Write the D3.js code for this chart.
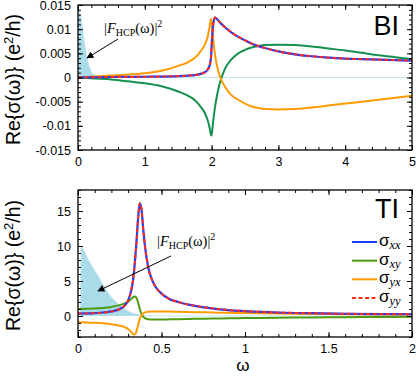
<!DOCTYPE html>
<html lang="en">
<head>
<meta charset="utf-8">
<title>Re sigma BI / TI</title>
<script src="https://d3js.org/d3.v7.min.js"></script>
<style>
  body { margin: 0; background: #fff; }
  text { font-family: "Liberation Sans", Arial, sans-serif; }
  .serif { font-family: "Liberation Serif", "Times New Roman", serif; }
</style>
</head>
<body>
<svg id="chart" width="416" height="376"></svg>
<script>
// colours
var cBlue = "#1a3cff", cRed = "#ff2a1a", cOrange = "#ff9a00"
var cGreenBI = "#14904c", cGreenTI = "#4e9a10", cFill = "#a9dbe9"

// ---- BI panel data ----
var wBI = [0,0.25,0.5,0.75,1,1.25,1.5,1.65,1.75,1.85,1.9,1.94,1.97,1.99,2.0,2.02,2.05,2.08,2.12,2.16,2.2,2.3,2.4,2.5,2.6,2.7,2.8,3.0,3.25,3.5,3.75,4,4.25,4.5,4.75,5]
var sxxBI = [0,0.00005,0.0001,0.00012,0.00015,0.0002,0.0003,0.0004,0.0005,0.0008,0.0011,0.0016,0.0025,0.004,0.0065,0.0105,0.0124,0.0121,0.0115,0.0109,0.0104,0.0093,0.0084,0.0077,0.0070,0.0065,0.0061,0.0054,0.0048,0.0044,0.0041,0.0039,0.0038,0.0037,0.0036,0.0035]
var sxyBI = [0,-0.0002,-0.0004,-0.0008,-0.0012,-0.0018,-0.0029,-0.0038,-0.0047,-0.0063,-0.0074,-0.0088,-0.0104,-0.0118,-0.012,-0.0095,-0.0062,-0.0038,-0.0013,0.0004,0.0018,0.0038,0.005,0.0057,0.0062,0.0065,0.0067,0.0068,0.0067,0.0064,0.006,0.0056,0.0051,0.0046,0.0042,0.0038]
var syxBI = [0,0.0002,0.0004,0.0006,0.0009,0.0014,0.0024,0.0032,0.0041,0.0057,0.0068,0.0084,0.0105,0.0121,0.0118,0.0085,0.0048,0.0025,0.0004,-0.0009,-0.0019,-0.0037,-0.0046,-0.0054,-0.006,-0.0063,-0.0065,-0.0066,-0.0065,-0.0062,-0.0058,-0.0054,-0.005,-0.0046,-0.0042,-0.0038]
var wFBI = [0.005,0.03,0.05,0.075,0.1,0.125,0.15,0.175,0.2,0.25,0.3,0.4,1,5]
var fBI = [0.0142,0.0133,0.0118,0.0092,0.0068,0.0048,0.0032,0.0021,0.0012,0.0004,0.0001,0,0,0]

// ---- TI panel data ----
var wTI = [0,0.05,0.1,0.15,0.2,0.25,0.28,0.3,0.32,0.33,0.34,0.35,0.36,0.37,0.38,0.39,0.4,0.42,0.45,0.5,0.55,0.6,0.7,0.8,0.9,1.0,1.2,1.4,1.6,1.8,2.0]
var sxxTI = [0.35,0.37,0.42,0.5,0.65,1.0,1.5,2.2,3.8,5.2,7.5,10.5,14.0,16.1,15.3,12.6,10.2,7.0,4.8,3.2,2.4,2.0,1.45,1.1,0.85,0.7,0.5,0.4,0.32,0.28,0.25]
var sxyTI = [1.0,1.02,1.08,1.15,1.3,1.55,1.8,2.05,2.45,2.7,2.8,2.6,1.9,1.0,0.3,-0.1,-0.3,-0.45,-0.5,-0.5,-0.48,-0.45,-0.4,-0.36,-0.33,-0.3,-0.25,-0.2,-0.17,-0.14,-0.12]
var syxTI = [-0.9,-0.92,-0.97,-1.05,-1.18,-1.4,-1.6,-1.85,-2.3,-2.6,-2.65,-2.2,-1.3,-0.4,0.1,0.35,0.5,0.6,0.65,0.65,0.63,0.6,0.55,0.5,0.46,0.42,0.35,0.3,0.25,0.22,0.2]
var wFTI = [0.015,0.02,0.06,0.12,0.18,0.24,0.3,0.36,0.45,2.0]
var fTI = [0,9.8,8.1,5.7,3.3,1.7,0.7,0.2,0,0]

// axis ticks
var xTicksBI = [0,1,2,3,4,5]
var yTicksBI = [-0.015,-0.01,-0.005,0,0.005,0.01,0.015]
var yLabelsBI = ["-0.015","-0.01","-0.005","0","0.005","0.01","0.015"]
var xTicksTI = [0,0.5,1,1.5,2]
var xLabelsTI = ["0","0.5","1","1.5","2"]
var yTicksTI = [0,5,10,15]

var legendNames = ["xx","xy","yx","yy"]

var svg = d3.select("#chart")

function zip(xs, ys) { return xs.map((x, i) => [x, ys[i]]) }

function panel(opt) {
  var x = d3.scaleLinear().domain(opt.xDom).range([78, 412])
  var y = d3.scaleLinear().domain(opt.yDom).range([opt.bottom, opt.top])
  var g = svg.append("g")

  // clip
  var cid = "clip" + opt.name
  svg.append("clipPath").attr("id", cid).append("rect")
    .attr("x", 78).attr("y", opt.top).attr("width", 334).attr("height", opt.bottom - opt.top)
  var plot = g.append("g").attr("clip-path", "url(#" + cid + ")")

  var area = d3.area().x(d => x(d[0])).y0(y(0)).y1(d => y(d[1])).curve(d3.curveMonotoneX)
  var line = d3.line().x(d => x(d[0])).y(d => y(d[1])).curve(d3.curveMonotoneX)

  plot.append("path").datum(zip(opt.wF, opt.f)).attr("d", area).attr("fill", cFill)
  plot.append("path").datum(zip(opt.wF, opt.f)).attr("d", line)
    .attr("fill", "none").attr("stroke", "#c4e6ee").attr("stroke-width", 1)

  var series = [
    {v: opt.sxy, c: opt.green, dash: null, w: 2},
    {v: opt.syx, c: cOrange, dash: null, w: 2},
    {v: opt.sxx, c: cBlue, dash: null, w: 2.2},
    {v: opt.sxx, c: cRed, dash: "4,2.5", w: 2}
  ]
  series.forEach(s => {
    plot.append("path").datum(zip(opt.w, s.v)).attr("d", line)
      .attr("fill", "none").attr("stroke", s.c).attr("stroke-width", s.w)
      .attr("stroke-dasharray", s.dash)
  })

  // axes, ticks pointing inward
  function ax(gen, scale, vals, size, fmt, tr, pad) {
    var a = gen(scale).tickValues(vals).tickSize(size).tickPadding(pad || 6)
    a.tickFormat(fmt || (() => ""))
    var n = g.append("g").attr("transform", tr).call(a)
    n.select(".domain").remove()
    n.selectAll("line").attr("stroke", "#000").attr("stroke-width", 1)
    n.selectAll("text").attr("font-size", 12.5).attr("fill", "#000")
      .attr("font-family", "Liberation Sans, Arial, sans-serif")
    return n
  }
  var bt = "translate(0," + opt.bottom + ")", tt = "translate(0," + opt.top + ")"
  ax(d3.axisBottom, x, opt.xMinor, -3, null, bt)
  ax(d3.axisTop, x, opt.xMinor, -3, null, tt)
  ax(d3.axisBottom, x, opt.xTicks, -5, (d, i) => opt.xLabels[i], bt, 7)
  ax(d3.axisTop, x, opt.xTicks, -5, null, tt)
  ax(d3.axisLeft, y, opt.yMinor, -3, null, "translate(78,0)")
  ax(d3.axisRight, y, opt.yMinor, -3, null, "translate(412,0)")
  ax(d3.axisLeft, y, opt.yTicks, -5, (d, i) => opt.yLabels[i], "translate(78,0)", 7)
  ax(d3.axisRight, y, opt.yTicks, -5, null, "translate(412,0)")

  g.append("rect").attr("x", 78).attr("y", opt.top).attr("width", 334).attr("height", opt.bottom - opt.top)
    .attr("fill", "none").attr("stroke", "#000").attr("stroke-width", 1.3)

  // panel tag
  g.append("text").attr("x", 399).attr("y", opt.top + opt.tagDy).attr("text-anchor", "end")
    .attr("font-size", 27).text(opt.name)

  // y label
  var yl = g.append("text").attr("transform", "translate(20," + ((opt.top + opt.bottom) / 2 + 2) + ") rotate(-90)")
    .attr("text-anchor", "middle").attr("font-size", 19.5)
  yl.append("tspan").text("Re{σ(ω)} (e")
  yl.append("tspan").attr("font-size", 13).attr("dy", -7).text("2")
  yl.append("tspan").attr("dy", 7).text("/h)")

  // annotation |F_HCP(w)|^2
  var t = g.append("text").attr("class", "serif").attr("x", opt.ann[0]).attr("y", opt.ann[1]).attr("font-size", 14.5)
  t.append("tspan").text("|")
  t.append("tspan").attr("font-style", "italic").text("F")
  t.append("tspan").attr("font-size", 10).attr("dy", 3).text("HCP")
  t.append("tspan").attr("dy", -3).text("(ω)|")
  t.append("tspan").attr("font-size", 10).attr("dy", -6).text("2")

  g.append("line").attr("x1", opt.arrow[0]).attr("y1", opt.arrow[1])
    .attr("x2", opt.arrow[2]).attr("y2", opt.arrow[3])
    .attr("stroke", "#000").attr("stroke-width", 1).attr("marker-end", "url(#arrowhead)")

  return {x: x, y: y, g: g}
}

svg.append("defs").append("marker").attr("id", "arrowhead")
  .attr("viewBox", "0 0 10 10").attr("refX", 9).attr("refY", 5)
  .attr("markerWidth", 9).attr("markerHeight", 7).attr("orient", "auto")
  .attr("markerUnits", "userSpaceOnUse")
  .append("path").attr("d", "M0,0 L10,5 L0,10 Z").attr("fill", "#000")

panel({
  name: "BI", top: 5, bottom: 150, xDom: [0, 5], yDom: [-0.015, 0.015],
  w: wBI, sxx: sxxBI, sxy: sxyBI, syx: syxBI, wF: wFBI, f: fBI, green: cGreenBI,
  xTicks: xTicksBI, xLabels: xTicksBI.map(String), xMinor: d3.range(0, 5.001, 0.2),
  yTicks: yTicksBI, yLabels: yLabelsBI, yMinor: d3.range(-15, 16, 1).map(d => d / 1000),
  tagDy: 30, ann: [104, 33], arrow: [118, 39, 87, 58]
})

var ti = panel({
  name: "TI", top: 190, bottom: 337, xDom: [0, 2], yDom: [-3, 18],
  w: wTI, sxx: sxxTI, sxy: sxyTI, syx: syxTI, wF: wFTI, f: fTI, green: cGreenTI,
  xTicks: xTicksTI, xLabels: xLabelsTI, xMinor: d3.range(0, 20.01, 1).map(d => d / 10),
  yTicks: yTicksTI, yLabels: yTicksTI.map(String), yMinor: d3.range(-3, 19, 1),
  tagDy: 28, ann: [157, 246], arrow: [171, 256, 98, 291]
})

// x label
svg.append("text").attr("x", 243).attr("y", 371).attr("text-anchor", "middle")
  .attr("font-size", 17).text("ω")

// legend
var legColors = [cBlue, cGreenTI, cOrange, cRed]
var legY = d3.scalePoint().domain(legendNames).range([242, 298])
var leg = svg.append("g")
legendNames.forEach((n, i) => {
  if (i === 3) {
    leg.append("line").attr("x1", 352).attr("x2", 377).attr("y1", legY(n)).attr("y2", legY(n))
      .attr("stroke", cRed).attr("stroke-width", 2).attr("stroke-dasharray", "4,2.5")
  } else {
    leg.append("line").attr("x1", 352).attr("x2", 377).attr("y1", legY(n)).attr("y2", legY(n))
      .attr("stroke", legColors[i]).attr("stroke-width", 2)
  }
  var t = leg.append("text").attr("x", 379).attr("y", legY(n) + 4).attr("font-size", 17)
  t.append("tspan").text("σ")
  t.append("tspan").attr("class", "serif").attr("font-style", "italic")
    .attr("font-size", 12.5).attr("dy", 3).text(n)
})
</script>
</body>
</html>
